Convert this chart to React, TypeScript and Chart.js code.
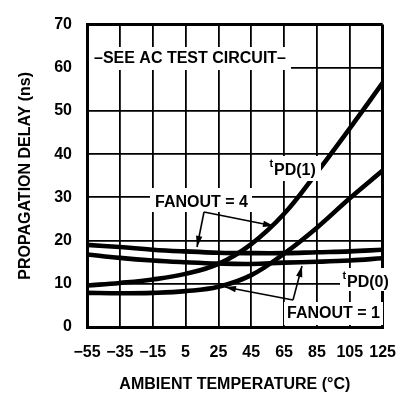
import React, { useEffect, useRef } from "react";
import { Chart, registerables } from "chart.js";

Chart.register(...registerables);

// ---- data ----
const tempC = [-55, -35, -15, 5, 25, 45, 65, 85, 105, 125];
const tpd0Fanout4 = [19.0, 18.5, 17.9, 17.5, 17.2, 17.1, 17.1, 17.3, 17.5, 17.9];
const tpd0Fanout1 = [16.8, 16.0, 15.4, 15.0, 14.7, 14.6, 14.9, 15.1, 15.4, 15.9];
const tpd1Fanout4 = [9.6, 10.2, 11.0, 12.3, 14.6, 19.2, 26.2, 35.8, 46.0, 56.5];
const tpd1Fanout1 = [7.9, 7.8, 7.9, 8.3, 9.3, 12.0, 17.0, 23.0, 29.8, 36.2];

const xTicks = [-55, -35, -15, 5, 25, 45, 65, 85, 105, 125];
const xTickLabels = ["\u221255", "\u221235", "\u221215", "5", "25", "45", "65", "85", "105", "125"];
const yTicks = [0, 10, 20, 30, 40, 50, 60, 70];

const FONT = "'Liberation Sans', Arial, sans-serif";

function arrowHead(ctx: CanvasRenderingContext2D, fx: number, fy: number, tx: number, ty: number) {
  const ang = Math.atan2(ty - fy, tx - fx);
  const len = 11;
  const hw = 3.2;
  ctx.beginPath();
  ctx.moveTo(tx, ty);
  ctx.lineTo(tx - len * Math.cos(ang) + hw * Math.sin(ang), ty - len * Math.sin(ang) - hw * Math.cos(ang));
  ctx.lineTo(tx - len * Math.cos(ang) - hw * Math.sin(ang), ty - len * Math.sin(ang) + hw * Math.cos(ang));
  ctx.closePath();
  ctx.fill();
}

const annotations = {
  id: "annotations",
  afterDatasetsDraw(chart: any) {
    const ctx: CanvasRenderingContext2D = chart.ctx;
    ctx.save();
    ctx.fillStyle = "#fff";
    // white label boxes over grid
    const boxes: [number, number, number, number][] = [
      [89, 47, 291, 70],
      [150, 188, 252, 212],
      [268, 156, 321, 181],
      [340, 268, 390, 291],
      [284, 302, 383, 325],
    ];
    for (const [x0, y0, x1, y1] of boxes) ctx.fillRect(x0, y0, x1 - x0, y1 - y0);

    ctx.fillStyle = "#000";
    ctx.textBaseline = "alphabetic";
    ctx.font = `bold 16px ${FONT}`;
    ctx.textAlign = "center";
    ctx.fillText("\u2013SEE AC TEST CIRCUIT\u2013", 190, 63);
    ctx.fillText("FANOUT = 4", 201.5, 207);
    ctx.fillText("FANOUT = 1", 333.5, 318);
    ctx.textAlign = "left";
    ctx.fillText("PD(1)", 274, 175);
    ctx.fillText("PD(0)", 347, 287);
    ctx.font = `bold 11px ${FONT}`;
    ctx.fillText("t", 269.5, 167);
    ctx.fillText("t", 342.5, 279);

    // arrows
    ctx.strokeStyle = "#000";
    ctx.lineWidth = 1.6;
    const v4 = [204, 212];
    const v1 = [293, 300];
    const tips4 = [[197, 247], [274, 226]];
    const tips1 = [[225, 287], [302, 266]];
    for (const [tx, ty] of tips4) {
      ctx.beginPath();
      ctx.moveTo(v4[0], v4[1]);
      ctx.lineTo(tx, ty);
      ctx.stroke();
      arrowHead(ctx, v4[0], v4[1], tx, ty);
    }
    for (const [tx, ty] of tips1) {
      ctx.beginPath();
      ctx.moveTo(v1[0], v1[1]);
      ctx.lineTo(tx, ty);
      ctx.stroke();
      arrowHead(ctx, v1[0], v1[1], tx, ty);
    }
    ctx.restore();
  },
};

export default function App() {
  const ref = useRef<HTMLCanvasElement | null>(null);
  useEffect(() => {
    if (!ref.current) return;
    const mk = (vals: number[]) => tempC.map((t, i) => ({ x: t, y: vals[i] }));
    const ds = (label: string, vals: number[]) => ({
      label,
      data: mk(vals),
      borderColor: "#000",
      backgroundColor: "#000",
      borderWidth: 4.6,
      pointRadius: 0,
      tension: 0.4,
      fill: false,
    });
    const edgeX = (c: any) => (c.tick && (c.tick.value === -55 || c.tick.value === 125) ? 3 : 1.8);
    const edgeY = (c: any) => (c.tick && (c.tick.value === 0 || c.tick.value === 70) ? 3 : 1.8);
    const chart = new Chart(ref.current, {
      type: "line",
      data: {
        datasets: [
          ds("tPD(0) FANOUT = 4", tpd0Fanout4),
          ds("tPD(0) FANOUT = 1", tpd0Fanout1),
          ds("tPD(1) FANOUT = 4", tpd1Fanout4),
          ds("tPD(1) FANOUT = 1", tpd1Fanout1),
        ],
      },
      options: {
        animation: false,
        responsive: false,
        devicePixelRatio: 1,
        layout: { padding: { top: 12, right: 15, left: 0, bottom: 0 } },
        plugins: { legend: { display: false }, tooltip: { enabled: false } },
        scales: {
          x: {
            type: "linear",
            min: -55,
            max: 125,
            afterBuildTicks: (s: any) => {
              s.ticks = xTicks.map((v) => ({ value: v }));
            },
            afterFit: (s: any) => {
              s.height = 73;
            },
            ticks: {
              color: "#000",
              padding: 16,
              maxRotation: 0,
              autoSkip: false,
              font: { family: FONT, size: 16, weight: "bold" },
              callback: (v: any) => xTickLabels[xTicks.indexOf(Number(v))],
            },
            grid: { color: "#000", lineWidth: edgeX, drawTicks: false },
            border: { display: true, color: "#000", width: 3 },
            title: {
              display: true,
              text: "AMBIENT TEMPERATURE (°C)",
              color: "#000",
              font: { family: FONT, size: 16, weight: "bold" },
              padding: { top: 0, bottom: 6 },
            },
          },
          y: {
            type: "linear",
            min: 0,
            max: 70,
            afterBuildTicks: (s: any) => {
              s.ticks = yTicks.map((v) => ({ value: v }));
            },
            afterFit: (s: any) => {
              s.width = 87;
            },
            ticks: {
              color: "#000",
              padding: 15,
              font: { family: FONT, size: 16, weight: "bold" },
            },
            grid: { color: "#000", lineWidth: edgeY, drawTicks: false },
            border: { display: true, color: "#000", width: 3 },
            title: {
              display: true,
              text: "PROPAGATION DELAY (ns)",
              color: "#000",
              font: { family: FONT, size: 16, weight: "bold" },
              padding: { top: 16, bottom: 0 },
            },
          },
        },
      },
      plugins: [annotations],
    } as any);
    return () => chart.destroy();
  }, []);
  return (
    <div style={{ position: "fixed", left: 0, top: 0, width: 412, height: 400, background: "#fff" }}>
      <canvas ref={ref} width={412} height={400} style={{ width: 412, height: 400, display: "block" }} />
    </div>
  );
}
